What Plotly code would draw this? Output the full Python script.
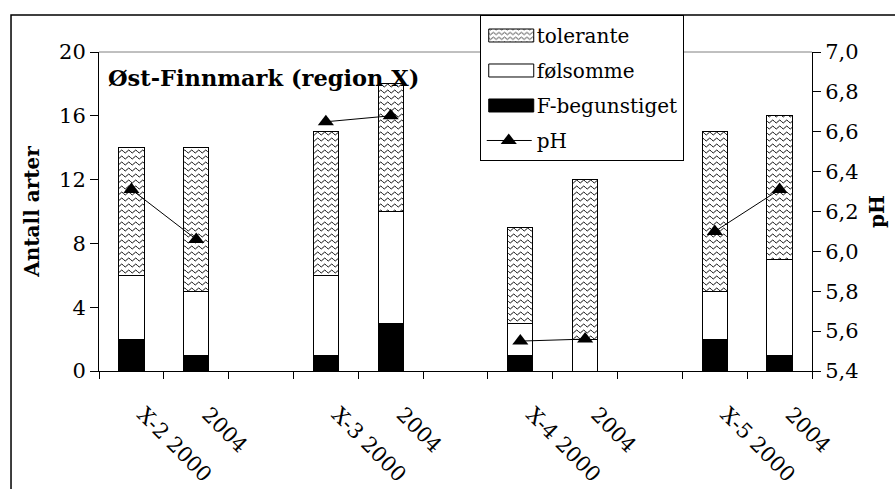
import plotly.graph_objects as go
from plotly.subplots import make_subplots

categories = ["X-2 2000", "2004", "", "X-3 2000", "2004", "", "X-4 2000", "2004", "", "X-5 2000", "2004"]
f_begunstiget = [2, 1, None, 1, 3, None, 1, 0, None, 2, 1]
folsomme = [4, 4, None, 5, 7, None, 2, 2, None, 3, 6]
tolerante = [8, 9, None, 9, 8, None, 6, 10, None, 10, 9]
ph = [6.31, 6.06, None, 6.65, 6.68, None, 5.55, 5.56, None, 6.10, 6.31]
left_ticks = [0, 4, 8, 12, 16, 20]
right_ticks = [5.4, 5.6, 5.8, 6.0, 6.2, 6.4, 6.6, 6.8, 7.0]

FONT = "DejaVu Serif"
xs = list(range(len(categories)))

fig = make_subplots(specs=[[{"secondary_y": True}]])

fig.add_trace(go.Bar(x=xs, y=f_begunstiget, name="F-begunstiget",
                     marker=dict(color="black", line=dict(color="black", width=1)),
                     legendgroup="c", legendrank=3), secondary_y=False)
fig.add_trace(go.Bar(x=xs, y=folsomme, name="følsomme",
                     marker=dict(color="white", line=dict(color="black", width=1)),
                     legendgroup="b", legendrank=2), secondary_y=False)
fig.add_trace(go.Bar(x=xs, y=tolerante, name="tolerante",
                     marker=dict(color="white", line=dict(color="black", width=1),
                                 pattern=dict(shape="-", fgcolor="black", bgcolor="white",
                                              size=6, solidity=0.2, fgopacity=1)),
                     legendgroup="a", legendrank=1), secondary_y=False)
fig.add_trace(go.Scatter(x=xs, y=ph, name="pH", mode="lines+markers",
                         line=dict(color="black", width=1),
                         marker=dict(symbol="triangle-up", size=14, color="black"),
                         connectgaps=False, legendgroup="d", legendrank=4), secondary_y=True)

fig.update_layout(
    width=895, height=489,
    margin=dict(l=99, r=83, t=52, b=118, autoexpand=False),
    paper_bgcolor="white", plot_bgcolor="white",
    barmode="stack", bargap=0.61,
    separators=", ",
    font=dict(family=FONT, size=21, color="black"),
    showlegend=True,
    legend=dict(x=0.534, y=1.116, xanchor="left", yanchor="top",
                bgcolor="white", bordercolor="black", borderwidth=1,
                font=dict(family=FONT, size=20, color="black"),
                traceorder="grouped", tracegroupgap=6,
                itemwidth=46),
)

minor_vals = [i - 0.5 for i in range(len(categories) + 1)]
fig.update_xaxes(domain=[0, 1], range=[-0.5, len(categories) - 0.5], tickmode="array", tickvals=xs,
                 ticktext=categories,
                 tickangle=45, ticks="", showline=True, linecolor="black", linewidth=1,
                 showgrid=False, zeroline=False, ticklabelstandoff=22, ticklabelshift=12,
                 automargin=False,
                 minor=dict(tickmode="array", tickvals=minor_vals, ticks="outside", ticklen=7,
                            tickcolor="black", showgrid=False),
                 tickfont=dict(family=FONT, size=21, color="black"))
fig.update_yaxes(range=[0, 20], tickmode="array", tickvals=left_ticks, ticks="outside", ticklen=8,
                 tickcolor="black", showline=True, linecolor="black", linewidth=1,
                 showgrid=False, zeroline=False, automargin=False,
                 title=dict(text="<b>Antall arter</b>", font=dict(family=FONT, size=20), standoff=14),
                 tickfont=dict(family=FONT, size=21, color="black"), secondary_y=False)
fig.update_yaxes(range=[5.4, 7.0], tickmode="array", tickvals=right_ticks, tickformat=".1f",
                 ticks="outside", ticklen=8, tickcolor="black", showline=True, linecolor="black",
                 linewidth=1, showgrid=False, zeroline=False, automargin=False,
                 title=dict(text="<b>pH</b>", font=dict(family=FONT, size=20), standoff=12),
                 tickfont=dict(family=FONT, size=21, color="black"), secondary_y=True)

# plot-area top border (gray) and outer chart frame
fig.add_shape(type="line", xref="x domain", yref="y domain", x0=0, x1=1, y0=1, y1=1,
              line=dict(color="#808080", width=1))
fig.add_shape(type="rect", xref="paper", yref="paper", x0=-0.1234, x1=1.5, y0=-1, y1=1.116,
              line=dict(color="black", width=1.5), fillcolor="rgba(0,0,0,0)", layer="below")

fig.add_annotation(text="<b>Øst-Finnmark (region X)</b>", xref="x domain", yref="paper",
                   x=0.01, y=0.92, xanchor="left", yanchor="middle", showarrow=False,
                   font=dict(family=FONT, size=22.5, color="black"))

post = """
document.body.style.margin = '0';
document.body.style.overflow = 'hidden';
var gd = document.getElementById('{plot_id}');
function restyleSvg(){
  document.querySelectorAll('pattern').forEach(function(p){
    p.setAttribute('width', 7); p.setAttribute('height', 6);
    p.querySelectorAll('rect').forEach(function(r){r.setAttribute('width', 7); r.setAttribute('height', 6);});
    var path = p.querySelector('path');
    if (path) {
      path.setAttribute('d', 'M0,3.5 Q1.75,0.5 3.5,3.5 T7,3.5');
      path.style.fill = 'none'; path.style.stroke = '#111'; path.style.strokeOpacity = '1';
      path.style.opacity = '1'; path.style.strokeWidth = '1';
    }
  });
  document.querySelectorAll('g.legendpoints path').forEach(function(b){
    var d = b.getAttribute('d') || '';
    if (d.replace(/\\s/g, '') === 'M6,6H-6V-6H6Z') {
      b.setAttribute('d', 'M25,6.5H-20V-6.5H25Z');
    }
  });
  document.querySelectorAll('g.legendlines path').forEach(function(l){
    l.setAttribute('d', 'M6,0h45');
  });
}
restyleSvg();
setTimeout(restyleSvg, 50);
setTimeout(restyleSvg, 300);
if (gd && gd.on) { gd.on('plotly_afterplot', restyleSvg); }
"""
fig.write_html("out.html", post_script=post, config={"displayModeBar": False})
